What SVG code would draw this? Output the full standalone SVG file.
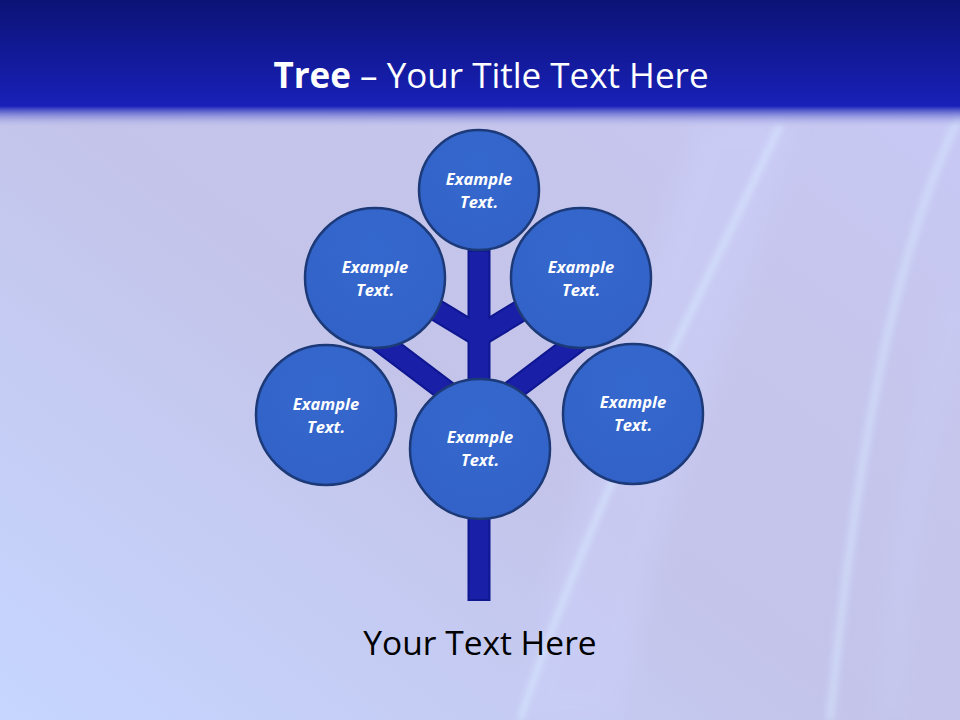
<svg xmlns="http://www.w3.org/2000/svg" width="960" height="720" viewBox="0 0 960 720">
<defs>
<linearGradient id="bg" x1="0" y1="1" x2="1" y2="0">
<stop offset="0" stop-color="#c6d6ff"/>
<stop offset="0.45" stop-color="#c4c4ea"/>
<stop offset="0.75" stop-color="#c6c6ee"/>
<stop offset="1" stop-color="#c8caf8"/>
</linearGradient>
<linearGradient id="hdr" x1="0" y1="0" x2="0" y2="1">
<stop offset="0" stop-color="#0c1376"/>
<stop offset="1" stop-color="#1820b8"/>
</linearGradient>
<linearGradient id="fade" x1="0" y1="0" x2="0" y2="1">
<stop offset="0" stop-color="#1820b8" stop-opacity="1"/>
<stop offset="0.35" stop-color="#5a60cc" stop-opacity="0.7"/>
<stop offset="1" stop-color="#c4c6ec" stop-opacity="0"/>
</linearGradient>
<radialGradient id="cf" cx="0.5" cy="0.3" r="0.7">
<stop offset="0" stop-color="#3568ce"/>
<stop offset="1" stop-color="#3262c8"/>
</radialGradient>
<filter id="blur" x="-50%" y="-50%" width="200%" height="200%">
<feGaussianBlur stdDeviation="3"/>
</filter>
<filter id="blur2" x="-50%" y="-50%" width="200%" height="200%">
<feGaussianBlur stdDeviation="12"/>
</filter>
</defs>
<style>
.node circle{fill:url(#cf);stroke:#1d3a78;stroke-width:2.5}
.node text{font-family:"Open Sans","Liberation Sans",sans-serif;font-weight:bold;font-style:italic;font-size:16.5px;fill:#ffffff;text-anchor:middle}
.br{stroke:#0e1690;stroke-width:23;stroke-linecap:butt}
.bri{stroke:#1a1fa8;stroke-width:19;stroke-linecap:butt}
</style>
<!-- background -->
<rect x="0" y="0" width="960" height="720" fill="url(#bg)"/>
<path d="M700 120 C 640 300 560 520 520 720 L 620 720 C 660 520 740 300 800 120 Z" fill="#d0d4ff" opacity="0.35" filter="url(#blur2)"/>
<path d="M780 125 C 700 300 600 480 520 720" fill="none" stroke="#d8eaff" stroke-width="5" opacity="0.8" filter="url(#blur)"/>
<path d="M960 115 C 900 240 860 420 830 720" fill="none" stroke="#d6e8ff" stroke-width="8" opacity="0.55" filter="url(#blur)"/>
<path d="M960 300 C 920 420 900 560 890 720" fill="none" stroke="#d0d8ff" stroke-width="14" opacity="0.35" filter="url(#blur2)"/>
<!-- header -->
<rect x="0" y="0" width="960" height="106" fill="url(#hdr)"/>
<rect x="0" y="106" width="960" height="22" fill="url(#fade)"/>
<text x="491" y="88" text-anchor="middle" font-family="Open Sans,Liberation Sans,sans-serif" font-size="35" fill="#ffffff"><tspan font-weight="bold">Tree</tspan> – Your Title Text Here</text>
<!-- connectors -->
<g id="connectors">
<line class="br" x1="479" y1="250" x2="479" y2="601"/>
<line class="br" x1="479" y1="336" x2="380" y2="276"/>
<line class="br" x1="479" y1="336" x2="578" y2="276"/>
<line class="br" x1="479" y1="416" x2="360" y2="326"/>
<line class="br" x1="479" y1="416" x2="598" y2="326"/>
<line class="bri" x1="479" y1="252" x2="479" y2="599"/>
<line class="bri" x1="479" y1="336" x2="380" y2="276"/>
<line class="bri" x1="479" y1="336" x2="578" y2="276"/>
<line class="bri" x1="479" y1="416" x2="360" y2="326"/>
<line class="bri" x1="479" y1="416" x2="598" y2="326"/>
</g>
<!-- nodes -->
<g id="node-top" class="node"><circle cx="479" cy="190" r="60"/><text x="479" y="185">Example</text><text x="479" y="208">Text.</text></g>
<g id="node-ul" class="node"><circle cx="375" cy="278" r="70"/><text x="375" y="273">Example</text><text x="375" y="296">Text.</text></g>
<g id="node-ur" class="node"><circle cx="581" cy="278" r="70"/><text x="581" y="273">Example</text><text x="581" y="296">Text.</text></g>
<g id="node-ll" class="node"><circle cx="326" cy="415" r="70"/><text x="326" y="410">Example</text><text x="326" y="433">Text.</text></g>
<g id="node-lr" class="node"><circle cx="633" cy="414" r="70"/><text x="633" y="408">Example</text><text x="633" y="431">Text.</text></g>
<g id="node-c" class="node"><circle cx="480" cy="449" r="70"/><text x="480" y="443">Example</text><text x="480" y="466">Text.</text></g>
<text x="480" y="655" text-anchor="middle" font-family="Open Sans,Liberation Sans,sans-serif" font-size="33.5" fill="#000000">Your Text Here</text>
</svg>
